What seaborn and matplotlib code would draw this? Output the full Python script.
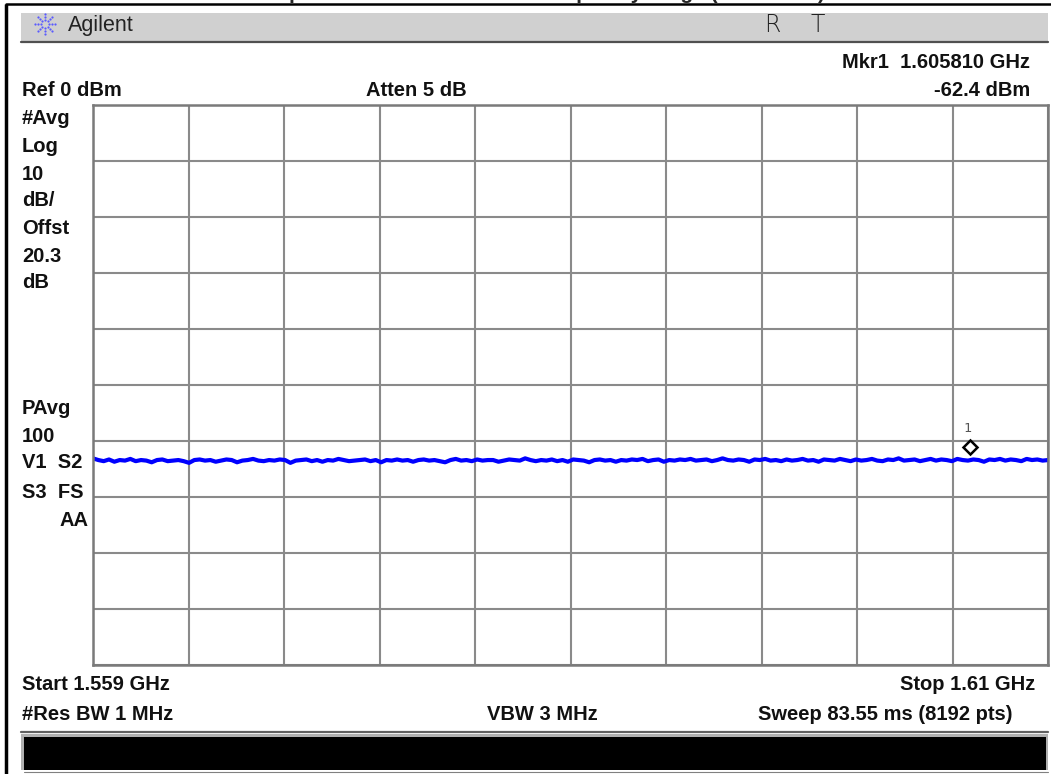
import numpy as np
import matplotlib
matplotlib.use("Agg")
import matplotlib.pyplot as plt
from matplotlib.patches import Rectangle
from matplotlib.transforms import offset_copy
import seaborn as sns

# analyzer settings / marker readout
start_ghz = 1.559
stop_ghz = 1.61
ref_dbm = 0
db_per_div = 10
mkr_freq = 1.605810
mkr_level = -62.4

# trace (decimated from 8192 pts)
trace_dbm = [
    -63.1, -63.4, -63.6, -63.3, -63.7, -63.4, -63.5, -63.2, -63.6, -63.4,
    -63.5, -63.8, -63.4, -63.3, -63.6, -63.5, -63.4, -63.6, -63.9, -63.4,
    -63.3, -63.5, -63.4, -63.7, -63.5, -63.3, -63.4, -63.8, -63.5, -63.4,
    -63.2, -63.5, -63.6, -63.4, -63.5, -63.3, -63.4, -63.9, -63.5, -63.4,
    -63.3, -63.6, -63.4, -63.7, -63.4, -63.5, -63.2, -63.4, -63.6, -63.5,
    -63.4, -63.3, -63.6, -63.4, -63.8, -63.4, -63.5, -63.3, -63.5, -63.4,
    -63.7, -63.4, -63.3, -63.5, -63.4, -63.6, -63.8, -63.4, -63.2, -63.5,
    -63.4, -63.6, -63.3, -63.5, -63.4, -63.4, -63.7, -63.5, -63.3, -63.4,
    -63.5, -63.1, -63.4, -63.6, -63.4, -63.5, -63.3, -63.6, -63.4, -63.7,
    -63.3, -63.4, -63.5, -63.8, -63.4, -63.3, -63.5, -63.4, -63.7, -63.4,
    -63.5, -63.3, -63.4, -63.2, -63.6, -63.4, -63.3, -63.7, -63.4, -63.5,
    -63.3, -63.4, -63.2, -63.5, -63.4, -63.3, -63.6, -63.4, -63.1, -63.4,
    -63.5, -63.3, -63.4, -63.7, -63.3, -63.4, -63.2, -63.5, -63.4, -63.6,
    -63.3, -63.5, -63.4, -63.2, -63.5, -63.4, -63.7, -63.3, -63.4, -63.5,
    -63.2, -63.4, -63.6, -63.3, -63.5, -63.4, -63.2, -63.5, -63.6, -63.3,
    -63.4, -63.1, -63.5, -63.4, -63.3, -63.6, -63.4, -63.2, -63.5, -63.3,
    -63.4, -63.6, -63.2, -63.4, -63.5, -63.3, -63.4, -63.7, -63.3, -63.4,
    -63.2, -63.5, -63.3, -63.4, -63.6, -63.2, -63.4, -63.3, -63.5, -63.4,
]
freq = np.linspace(start_ghz, stop_ghz, len(trace_dbm))

title = "Spurious emission in GPS frequency range (1559-1610)"
side_top = ["#Avg", "Log", "10", "dB/", "Offst", "20.3", "dB"]
side_bottom = ["PAvg", "100", "V1  S2", "S3  FS"]

W, H = 1051, 774
sns.set_style("white")
plt.rcParams["font.family"] = ["Liberation Sans Narrow", "Liberation Sans", "DejaVu Sans"]

fig = plt.figure(figsize=(W / 100, H / 100), dpi=100)

# overlay in pixel coords for the screen furniture
bg = fig.add_axes([0, 0, 1, 1], zorder=0)
bg.set_xlim(0, W)
bg.set_ylim(H, 0)
bg.axis("off")

bg.plot([6, 6], [4, H], color="black", lw=2.5, solid_capstyle="butt")
bg.plot([6, W], [4, 4], color="black", lw=1.8)
bg.add_patch(Rectangle((21, 13), 1027, 29, facecolor="#d0d0d0", edgecolor="none"))
bg.plot([21, 1048], [42, 42], color="#505050", lw=1.6)

# agilent starburst
for a in np.arange(0, 360, 45):
    for r in (4, 7, 10):
        bg.plot(45 + r * np.cos(np.radians(a)), 24 + r * np.sin(np.radians(a)),
                "o", ms=1.6, color="#5a5aff", mec="none")
bg.text(68, 25, "Agilent", fontsize=15.5, va="center", ha="left", color="#222222")
bg.text(772, 25, "R", fontsize=17, va="center", ha="center", color="#222222",
        family=["DejaVu Sans"], fontweight="light")
bg.text(818, 25, "T", fontsize=17, va="center", ha="center", color="#222222",
        family=["DejaVu Sans"], fontweight="light")

bg.text(825, -1, title, fontsize=15, fontweight="bold", ha="right", va="baseline")

bold = dict(fontsize=14.5, fontweight="bold", color="#111111", va="center")
bg.text(1030, 63, "Mkr1  1.605810 GHz", ha="right", **bold)
bg.text(22, 90, "Ref 0 dBm", ha="left", **bold)
bg.text(366, 90, "Atten 5 dB", ha="left", **bold)
bg.text(1030, 90, "-62.4 dBm", ha="right", **bold)

for s, y in zip(side_top, [118, 146, 174, 201, 229, 256, 283]):
    bg.text(22, y, s, ha="left", **bold)
for s, y in zip(side_bottom, [408, 436, 462, 492]):
    bg.text(22, y, s, ha="left", **bold)
bg.text(88, 520, "AA", ha="right", **bold)

bg.text(22, 684, "Start 1.559 GHz", ha="left", **bold)
bg.text(1035, 684, "Stop 1.61 GHz", ha="right", **bold)
bg.text(22, 714, "#Res BW 1 MHz", ha="left", **bold)
bg.text(487, 714, "VBW 3 MHz", ha="left", **bold)
bg.text(1012, 714, "Sweep 83.55 ms (8192 pts)", ha="right", **bold)

bg.plot([21, 1048], [732, 732], color="#606060", lw=1.6)
bg.add_patch(Rectangle((21, 734), 1027, 36, facecolor="#b0b0b0", edgecolor="none"))
bg.add_patch(Rectangle((24, 737), 1022, 33, facecolor="black", edgecolor="none"))
bg.plot([24, 1048], [772, 772], color="#808080", lw=0.8)

# graticule
x0, x1, y0, y1 = 93, 1048, 105, 665
ax = fig.add_axes([x0 / W, 1 - y1 / H, (x1 - x0) / W, (y1 - y0) / H], zorder=1)
ax.patch.set_alpha(0)
sns.lineplot(x=freq, y=trace_dbm, ax=ax, color="#0000ff", linewidth=3.0)

ax.set_xlim(start_ghz, stop_ghz)
ax.set_ylim(ref_dbm - 10 * db_per_div, ref_dbm)
ax.set_xticks(np.linspace(start_ghz, stop_ghz, 11))
ax.set_yticks(np.arange(ref_dbm - 10 * db_per_div, ref_dbm + 1, db_per_div))
ax.grid(True, color="#8a8a8a", linewidth=1.5)
ax.tick_params(length=0, labelbottom=False, labelleft=False)
ax.set_xlabel("")
ax.set_ylabel("")
for sp in ax.spines.values():
    sp.set_color("#7a7a7a")
    sp.set_linewidth(1.8)

# marker 1
mtrans = offset_copy(ax.transData, fig=fig, x=0, y=7, units="dots")
ax.plot([mkr_freq], [mkr_level], marker="D", ms=7.5, mfc="white", mec="black",
        mew=1.8, transform=mtrans, zorder=5)
ltrans = offset_copy(ax.transData, fig=fig, x=-2, y=26, units="dots")
ax.text(mkr_freq, mkr_level, "1", transform=ltrans, fontsize=9.5, ha="center",
        va="center", color="#555555", family=["DejaVu Sans Mono"])

fig.savefig("out.png", dpi=100)
